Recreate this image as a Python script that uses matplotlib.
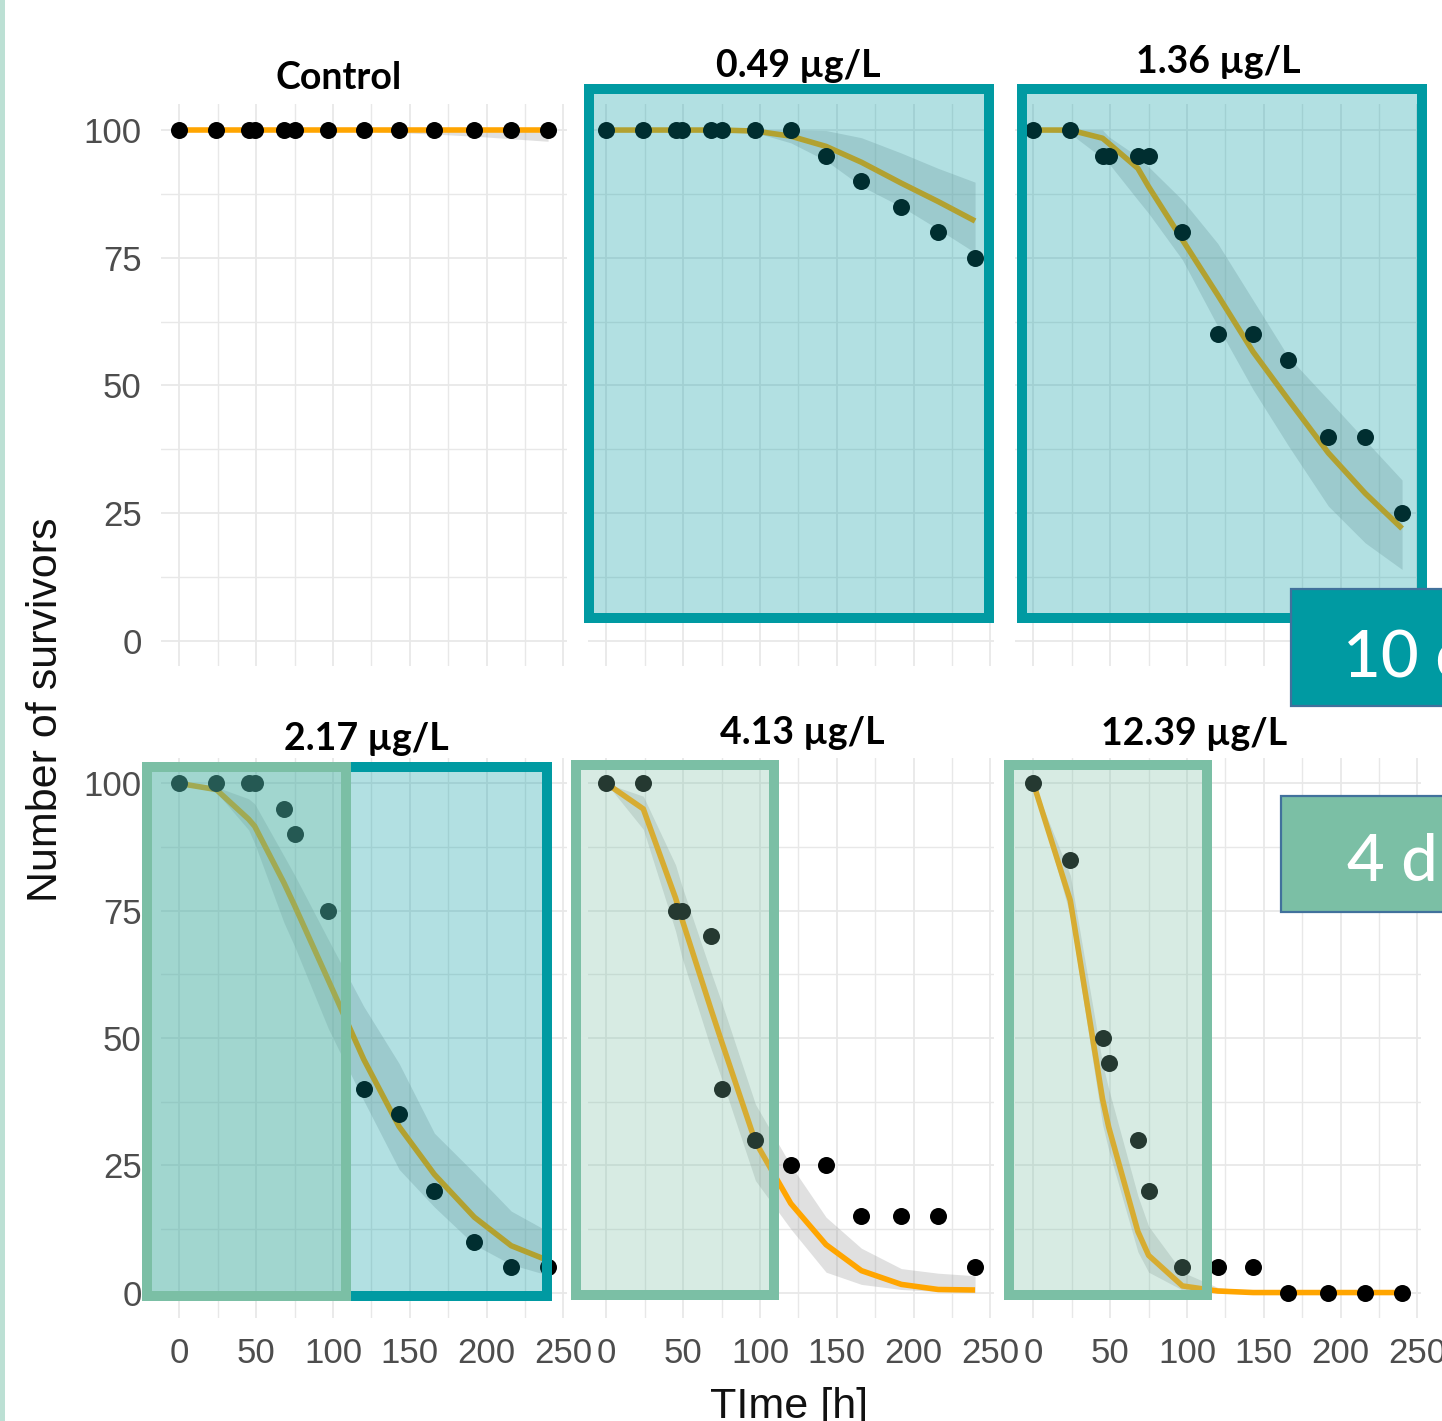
import matplotlib
matplotlib.use("Agg")
import matplotlib.pyplot as plt
from matplotlib.patches import Rectangle

# ---------------- data ----------------
times = [0, 24, 45, 49, 68, 75, 97, 120, 143, 166, 192, 216, 240]
panel_titles = ["Control", "0.49 µg/L", "1.36 µg/L", "2.17 µg/L", "4.13 µg/L", "12.39 µg/L"]

obs_control = [100, 100, 100, 100, 100, 100, 100, 100, 100, 100, 100, 100, 100]
obs_049 = [100, 100, 100, 100, 100, 100, 100, 100, 95, 90, 85, 80, 75]
obs_136 = [100, 100, 95, 95, 95, 95, 80, 60, 60, 55, 40, 40, 25]
obs_217 = [100, 100, 100, 100, 95, 90, 75, 40, 35, 20, 10, 5, 5]
obs_413 = [100, 100, 75, 75, 70, 40, 30, 25, 25, 15, 15, 15, 5]
obs_1239 = [100, 85, 50, 45, 30, 20, 5, 5, 5, 0, 0, 0, 0]

med_control = [100, 100, 100, 100, 100, 100, 100, 100, 100, 100, 100, 100, 100]
med_049 = [100, 100, 100, 100, 100, 100, 99.8, 98.8, 96.8, 93.7, 89.6, 86.0, 82.2]
med_136 = [100, 100, 98.4, 97.4, 92.5, 88.9, 78.5, 67.7, 56.6, 47.2, 36.8, 28.9, 22.0]
med_217 = [100, 98.8, 93.0, 91.6, 80.5, 76.0, 61.3, 45.8, 32.6, 23.2, 14.8, 9.2, 6.3]
med_413 = [100, 95.0, 77.5, 73.5, 55.7, 49.3, 29.6, 17.5, 9.4, 4.3, 1.6, 0.6, 0.5]
med_1239 = [100, 77.0, 38.0, 32.5, 12.0, 7.3, 1.3, 0.3, 0, 0, 0, 0, 0]

up_control = [100, 100, 100, 100, 100, 100, 100, 100, 100, 100, 100, 100, 100]
lo_control = [100, 100, 100, 100, 100, 100, 100, 99.8, 99.5, 99.2, 98.8, 98.3, 97.8]
up_049 = [100, 100, 100, 100, 100, 100, 100, 100, 99.9, 98.5, 95.5, 92.5, 89.8]
lo_049 = [100, 100, 100, 100, 100, 100, 99.5, 97.5, 94.0, 89.0, 85.0, 80.6, 76.0]
up_136 = [100, 100, 100, 98.7, 94.8, 92.8, 86.3, 77.8, 66.7, 55.6, 47.2, 39.3, 31.5]
lo_136 = [100, 99.3, 94.5, 93.5, 86.3, 83.7, 74.6, 61.6, 49.2, 38.2, 26.4, 19.2, 14.0]
up_217 = [100, 99.3, 97.0, 96.0, 85.8, 82.0, 69.3, 56.2, 45.0, 31.3, 23.5, 16.0, 12.0]
lo_217 = [100, 98.3, 90.9, 88.2, 72.7, 68.0, 51.8, 37.7, 24.2, 16.8, 9.4, 5.5, 3.4]
up_413 = [100, 97.5, 84.0, 80.0, 63.0, 57.0, 37.0, 25.0, 14.8, 8.7, 4.7, 3.8, 3.3]
lo_413 = [100, 91.0, 71.0, 66.0, 48.0, 42.0, 22.0, 12.5, 4.0, 1.6, 0.6, 0.2, 0]
up_1239 = [100, 82.0, 45.0, 40.0, 19.0, 13.0, 4.0, 1.0, 0.3, 0, 0, 0, 0]
lo_1239 = [100, 74.0, 33.0, 28.0, 8.0, 4.0, 0.5, 0, 0, 0, 0, 0, 0]

observed = [obs_control, obs_049, obs_136, obs_217, obs_413, obs_1239]
median = [med_control, med_049, med_136, med_217, med_413, med_1239]
upper = [up_control, up_049, up_136, up_217, up_413, up_1239]
lower = [lo_control, lo_049, lo_136, lo_217, lo_413, lo_1239]

x_ticks = [0, 50, 100, 150, 200, 250]
y_ticks = [0, 25, 50, 75, 100]

# ---------------- figure ----------------
W, H = 1442, 1421
fig = plt.figure(figsize=(W / 100, H / 100), dpi=100)
fig.patch.set_facecolor("white")

TICK_FONT = "Liberation Sans"
TITLE_FONT = "Lato"
GRID = "#e8e8e8"
TEAL = "#009AA2"
GREEN = "#7BBFA5"


def px_axes(x0, y0, x1, y1):
    return [x0 / W, 1 - y1 / H, (x1 - x0) / W, (y1 - y0) / H]


col_left = [161, 588, 1015]
col_w = 405.5
row_y = [(104.5, 666.5), (758, 1318)]

axes = []
for i in range(6):
    r, c = divmod(i, 3)
    x0 = col_left[c]
    y0, y1 = row_y[r]
    ax = fig.add_axes(px_axes(x0, y0, x0 + col_w, y1))
    ax.set_xlim(-12, 252)
    ax.set_ylim(-5, 105)
    ax.set_xticks(x_ticks)
    ax.set_xticks([25, 75, 125, 175, 225], minor=True)
    ax.set_yticks(y_ticks)
    ax.set_yticks([12.5, 37.5, 62.5, 87.5], minor=True)
    ax.grid(which="major", color=GRID, lw=1.3)
    ax.grid(which="minor", color=GRID, lw=1.0)
    ax.set_axisbelow(True)
    for s in ax.spines.values():
        s.set_visible(False)
    ax.tick_params(which="both", length=0)
    ax.tick_params(axis="y", pad=14, labelsize=25, labelcolor="#4d4d4d")
    ax.tick_params(axis="x", pad=14, labelsize=25, labelcolor="#4d4d4d")
    for lab in ax.get_xticklabels() + ax.get_yticklabels():
        lab.set_fontfamily(TICK_FONT)
    if c != 0:
        ax.set_yticklabels([])
    if r == 0:
        ax.set_xticklabels([])

    ax.fill_between(times, lower[i], upper[i], color="#999999", alpha=0.3, lw=0, zorder=2)
    ax.plot(times, median[i], color="#FFA500", lw=4.0, zorder=3, solid_capstyle="butt")
    ax.scatter(times, observed[i], s=150, color="black", zorder=4, clip_on=False, lw=0)
    axes.append(ax)

# ---------------- facet titles ----------------
title_pos = [(339, 89), (798, 77), (1218, 73), (366, 750), (802, 744), (1194, 745)]
for t, (x, y) in zip(panel_titles, title_pos):
    fig.text(x / W, 1 - y / H, t, ha="center", va="baseline", fontsize=27,
             fontweight="bold", family=[TITLE_FONT, "DejaVu Sans"], color="black")

# axis titles
fig.text(46 / W, 1 - 710 / H, "Number of survivors", rotation=90, ha="center", va="center",
         fontsize=31, family=TICK_FONT, color="#111111")
fig.text(789 / W, 1 - 1418 / H, "TIme [h]", ha="center", va="baseline",
         fontsize=31, family=TICK_FONT, color="#111111")


# ---------------- overlay shapes ----------------
def frame(x0, y0, x1, y1, color, lw_px=10, alpha=0.3, z=5):
    h = lw_px / 2
    rect = Rectangle(((x0 + h) / W, 1 - (y1 - h) / H), (x1 - x0 - lw_px) / W, (y1 - y0 - lw_px) / H,
                     transform=fig.transFigure, facecolor=matplotlib.colors.to_rgba(color, alpha),
                     edgecolor=color, lw=lw_px * 0.72, zorder=z)
    fig.add_artist(rect)


frame(584, 84, 994, 623, TEAL)
frame(1017, 84, 1427, 623, TEAL)
frame(142, 762, 552, 1301, TEAL)
frame(142, 762, 351, 1301, GREEN, z=6)
frame(571, 760, 779, 1300, GREEN, z=6)
frame(1004, 760, 1212, 1300, GREEN, z=6)


def label_box(x0, y0, x1, y1, color):
    rect = Rectangle((x0 / W, 1 - y1 / H), (x1 - x0) / W, (y1 - y0) / H,
                     transform=fig.transFigure, facecolor=color, edgecolor="#41719C",
                     lw=1.6, zorder=7)
    fig.add_artist(rect)


label_box(1291, 589, 1460, 706, TEAL)
label_box(1281, 796, 1460, 912, GREEN)
fig.text(1343 / W, 1 - 676 / H, "10 d", ha="left", va="baseline", fontsize=47,
         family=TITLE_FONT, fontweight="medium", color="white", zorder=8)
fig.text(1347 / W, 1 - 881 / H, "4 d", ha="left", va="baseline", fontsize=47,
         family=TITLE_FONT, fontweight="medium", color="white", zorder=8)

# left edge strip
fig.add_artist(Rectangle((0, 0), 5 / W, 1, transform=fig.transFigure,
                         facecolor="#BCE0D4", edgecolor="none", zorder=9))

fig.savefig("out.png", dpi=100)
